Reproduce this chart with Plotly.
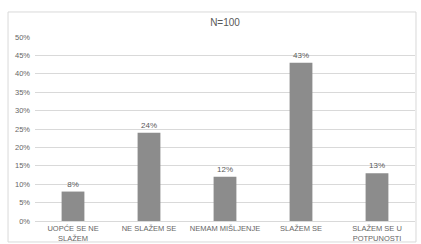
import plotly.graph_objects as go

categories = ["UOPĆE SE NE<br>SLAŽEM", "NE SLAŽEM SE", "NEMAM MIŠLJENJE", "SLAŽEM SE", "SLAŽEM SE U<br>POTPUNOSTI"]
values = [8, 24, 12, 43, 13]
tick_vals = [0, 5, 10, 15, 20, 25, 30, 35, 40, 45, 50]
tick_text = [f"{v}%" for v in tick_vals]

fig = go.Figure(go.Bar(
    x=categories, y=values,
    marker=dict(color="#8c8c8c", line=dict(width=0)),
    text=[f"{v}%" for v in values], textposition="outside",
    textfont=dict(size=8, color="#595959"), cliponaxis=False,
))

fig.update_layout(
    width=421, height=244,
    margin=dict(l=35, r=6, t=37, b=23, autoexpand=False),
    paper_bgcolor="white", plot_bgcolor="white",
    font=dict(family="Liberation Sans, Arial", size=8, color="#666666"),
    title=dict(text="N=100", x=0.5, xref="paper", y=1 - 22/244, yanchor="middle",
               font=dict(size=10, color="#595959")),
    bargap=0.7, showlegend=False,
    shapes=[dict(type="rect", xref="paper", yref="paper",
                 x0=-0.071, x1=1.0026, y0=-0.114, y1=1.136,
                 line=dict(color="#d9d9d9", width=1), layer="below")],
)
fig.update_yaxes(range=[0, 50], tickvals=tick_vals, ticktext=tick_text,
                 showgrid=True, gridcolor="#d9d9d9", gridwidth=1, automargin=False,
                 zeroline=False, showline=False, ticks="", tickfont=dict(size=7.5),
                 ticklabelstandoff=4)
fig.update_xaxes(showline=True, linecolor="#d9d9d9", ticks="", tickfont=dict(size=7.5),
                 tickangle=0, automargin=False)

fig.write_html("out.html", config={"displayModeBar": False},
               post_script="document.body.style.margin='0';")
